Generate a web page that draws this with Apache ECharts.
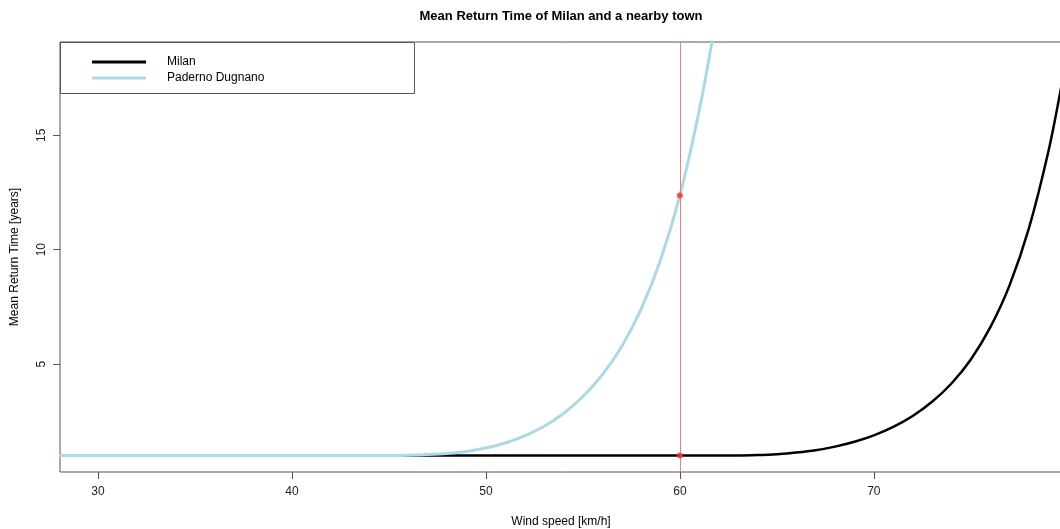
<!DOCTYPE html>
<html>
<head>
<meta charset="utf-8">
<title>Mean Return Time</title>
<script src="https://cdn.jsdelivr.net/npm/echarts@6/dist/echarts.min.js"></script>
<style>
  html, body { margin: 0; padding: 0; background: #fff; }
  #chart { width: 1060px; height: 529px; }
</style>
</head>
<body>
<div id="chart"></div>
<script>
// values
var milanSpeed = [45.7, 63, 64, 65, 66, 67, 68, 69, 70, 71, 72, 73, 74, 75, 76, 77, 78, 79, 79.7];
var milanTime = [1, 1, 1.02, 1.06, 1.13, 1.23, 1.39, 1.6, 1.88, 2.25, 2.73, 3.35, 4.15, 5.2, 6.6, 8.45, 10.95, 14.3, 17.3];
var padernoSpeed = [28, 45, 46, 47, 48, 49, 50, 51, 52, 53, 54, 55, 56, 57, 58, 59, 60, 61, 61.7];
var padernoTime = [1, 1, 1.01, 1.04, 1.09, 1.18, 1.33, 1.55, 1.86, 2.28, 2.84, 3.58, 4.53, 5.77, 7.4, 9.55, 12.37, 16.1, 19.3];
var markSpeed = 60;
var markPoints = [[60, 12.37], [60, 1]];
var xTicks = [30, 40, 50, 60, 70];
var yTicks = [5, 10, 15];

function pairs(xs, ys) {
  var out = [];
  for (var i = 0; i < xs.length; ++i) {
    out.push([xs[i], ys[i]]);
  }
  return out;
}

var font = 'Liberation Sans, Arial, sans-serif';
var myChart = echarts.init(document.getElementById('chart'));
var option = {
  backgroundColor: '#fff',
  animation: false,
  textStyle: { fontFamily: font },
  graphic: [
    {
      type: 'text',
      x: 561,
      y: 10,
      style: { text: 'Mean Return Time of Milan and a nearby town', font: 'bold 13px ' + font, fill: '#000', align: 'center' }
    },
    {
      type: 'rect',
      shape: { x: 60.5, y: 42.5, width: 354, height: 51 },
      style: { fill: '#fff', stroke: '#555', lineWidth: 1 },
      z: 10
    }
  ],
  legend: {
    data: ['Milan', 'Paderno Dugnano'],
    orient: 'vertical',
    left: 87,
    top: 49,
    icon: 'rect',
    itemWidth: 54,
    itemHeight: 3,
    itemGap: 0,
    z: 20,
    textStyle: { fontSize: 12, color: '#000', lineHeight: 16, padding: [0, 0, 0, 16], fontFamily: font }
  },
  grid: {
    left: 60,
    top: 42,
    right: -2,
    bottom: 57,
    show: true,
    borderColor: '#555',
    borderWidth: 1,
    containLabel: false,
    outerBoundsMode: 'none'
  },
  xAxis: {
    type: 'value',
    min: 28.04,
    max: 79.7,
    name: 'Wind speed [km/h]',
    nameLocation: 'middle',
    nameGap: 44,
    nameTextStyle: { fontSize: 12, color: '#000' },
    axisLine: { show: false },
    splitLine: { show: false },
    axisTick: { show: true, inside: false, length: 7, customValues: xTicks, lineStyle: { color: '#555' } },
    axisLabel: { customValues: xTicks, fontSize: 12, color: '#222', margin: 14 }
  },
  yAxis: {
    type: 'value',
    min: 0.28,
    max: 19.08,
    name: 'Mean Return Time [years]',
    nameLocation: 'middle',
    nameGap: 39,
    nameTextStyle: { fontSize: 12, color: '#000' },
    axisLine: { show: false },
    splitLine: { show: false },
    axisTick: { show: true, inside: false, length: 7, customValues: yTicks, lineStyle: { color: '#555' } },
    axisLabel: { customValues: yTicks, rotate: 90, fontSize: 12, color: '#222', margin: 12 }
  },
  series: [
    {
      name: 'Milan',
      type: 'line',
      data: pairs(milanSpeed, milanTime),
      showSymbol: false,
      smooth: 0.3,
      color: '#000',
      lineStyle: { color: '#000', width: 2.5 },
      z: 2
    },
    {
      name: 'Paderno Dugnano',
      type: 'line',
      data: pairs(padernoSpeed, padernoTime),
      showSymbol: false,
      smooth: 0.3,
      color: '#add8e6',
      lineStyle: { color: '#add8e6', width: 3 },
      z: 3,
      markLine: {
        silent: true,
        symbol: 'none',
        label: { show: false },
        itemStyle: { color: '#e88080' },
        lineStyle: { color: '#e88080', width: 1, type: 'solid', opacity: 1 },
        emphasis: { disabled: true },
        data: [{ xAxis: markSpeed, lineStyle: { color: '#e88080' } }]
      }
    },
    {
      name: 'marks',
      type: 'scatter',
      data: markPoints,
      symbolSize: 6,
      itemStyle: { color: '#ee3333' },
      z: 5
    }
  ]
};
myChart.setOption(option);
</script>
</body>
</html>
